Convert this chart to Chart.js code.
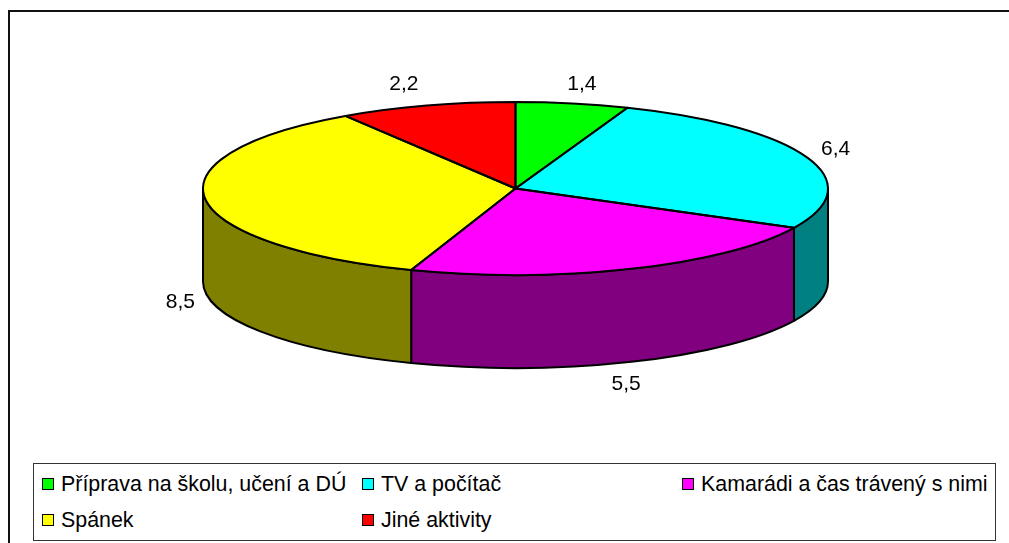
<!DOCTYPE html>
<html>
<head>
<meta charset="utf-8">
<script src="https://cdn.jsdelivr.net/npm/chart.js@4/dist/chart.umd.min.js"></script>
<style>
  body { margin: 0; width: 1009px; height: 543px; overflow: hidden; background: #fff; position: relative; font-family: "Liberation Sans", Arial, sans-serif; }
  #frame { position: absolute; left: 8px; top: 10px; width: 1200px; height: 700px; border: 2px solid #111; }
  #chart { position: absolute; left: 0; top: 0; }
  #legend { position: absolute; left: 33px; top: 463px; width: 961px; height: 76px; border: 1px solid #333; background: #fff; }
  .item { position: absolute; font-size: 21.4px; color: #000; white-space: nowrap; line-height: 22px; }
  .box { display: inline-block; width: 10px; height: 10px; border: 1px solid #000; margin-right: 7px; vertical-align: 1px; }
</style>
</head>
<body>
<div id="frame"></div>
<canvas id="chart" width="1009" height="543"></canvas>
<div id="legend"></div>
<script>
// Data
const categories = ["Příprava na školu, učení a DÚ", "TV a počítač", "Kamarádi a čas trávený s nimi", "Spánek", "Jiné aktivity"];
const hours = [1.4, 6.4, 5.5, 8.5, 2.2];
const topColors = ["#00FF00", "#00FFFF", "#FF00FF", "#FFFF00", "#FF0000"];
const sideColors = ["#008000", "#008080", "#800080", "#808000", "#800000"];

// Ellipse geometry of the 3D pie
const CX = 515.5, CY = 188.5, RX = 312.5, RY = 86.5, DEPTH = 93;
// small hand tweaks of the value labels (Excel places them a bit oddly)
const labelNudge = [[5, -2], [6, -2], [-14, 6], [-1, 8], [-16, -4]];

// Legend (3 columns)
const legendElement = document.getElementById("legend");
const legendCols = [8, 328, 648];
categories.forEach((name, i) => {
    const item = document.createElement("div");
    item.className = "item";
    item.style.left = legendCols[i % 3] + "px";
    item.style.top = (i < 3 ? 9 : 45) + "px";
    item.innerHTML = `<span class="box" style="background:${topColors[i]}"></span>${name}`;
    legendElement.appendChild(item);
});

const pie3d = {
    id: "pie3d",
    beforeDatasetsDraw(chart) {
        const ctx = chart.ctx;
        const arcs = chart.getDatasetMeta(0).data;

        // side walls for the front half (angles 0..PI)
        ctx.save();
        ctx.lineWidth = 2;
        ctx.strokeStyle = "#000";
        ctx.lineJoin = "round";
        arcs.forEach((arc, i) => {
            const a1 = Math.max(arc.startAngle, 0);
            const a2 = Math.min(arc.endAngle, Math.PI);
            if (a2 <= a1) return;
            ctx.beginPath();
            ctx.ellipse(CX, CY, RX, RY, 0, a1, a2);
            ctx.ellipse(CX, CY + DEPTH, RX, RY, 0, a2, a1, true);
            ctx.closePath();
            ctx.fillStyle = sideColors[i];
            ctx.fill();
            ctx.stroke();
        });
        ctx.restore();

        // squash the library's circle into the top ellipse
        const r = arcs[0].outerRadius;
        ctx.save();
        ctx.translate(CX, CY);
        ctx.scale(RX / r, RY / r);
        ctx.translate(-arcs[0].x, -arcs[0].y);
    },
    afterDatasetsDraw(chart) {
        const ctx = chart.ctx;
        ctx.restore();
        const arcs = chart.getDatasetMeta(0).data;

        // outlines of the top
        ctx.save();
        ctx.lineWidth = 2;
        ctx.strokeStyle = "#000";
        ctx.lineJoin = "round";
        arcs.forEach(arc => {
            ctx.beginPath();
            ctx.moveTo(CX, CY);
            ctx.ellipse(CX, CY, RX, RY, 0, arc.startAngle, arc.endAngle);
            ctx.closePath();
            ctx.stroke();
        });

        // value labels
        ctx.fillStyle = "#000";
        ctx.font = "21px 'Liberation Sans', Arial, sans-serif";
        ctx.textAlign = "center";
        ctx.textBaseline = "middle";
        arcs.forEach((arc, i) => {
            const mid = (arc.startAngle + arc.endAngle) / 2;
            const c = Math.cos(mid), s = Math.sin(mid);
            let x = CX + (RX + 24) * c + labelNudge[i][0];
            let y = CY + (RY + 18) * s + labelNudge[i][1];
            if (s > 0) y += DEPTH;
            ctx.fillText(hours[i].toFixed(1).replace(".", ","), x, y);
        });
        ctx.restore();
    }
};

const ctx = document.getElementById("chart").getContext("2d");
new Chart(ctx, {
    type: "pie",
    data: {
        labels: categories,
        datasets: [{
            data: hours,
            backgroundColor: topColors,
            borderWidth: 0,
            clip: false
        }]
    },
    options: {
        responsive: false,
        animation: false,
        plugins: {
            legend: { display: false },
            tooltip: { enabled: false }
        }
    },
    plugins: [pie3d]
});
</script>
</body>
</html>
